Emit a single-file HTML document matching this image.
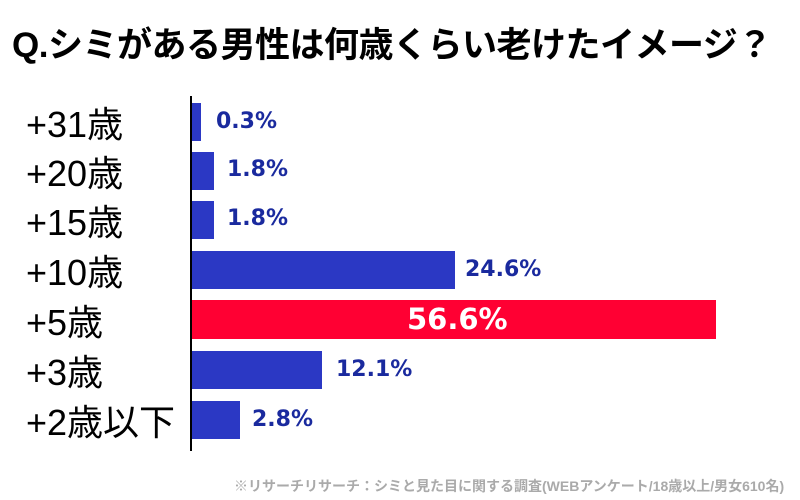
<!DOCTYPE html>
<html><head><meta charset="utf-8"><style>
body{margin:0;width:800px;height:500px;background:#fff;position:relative;overflow:hidden;font-family:"Liberation Sans","Noto Sans CJK JP",sans-serif}
.t{position:absolute;left:12px;top:17px;font-size:35px;font-weight:bold;color:#000;white-space:nowrap;letter-spacing:-0.5px}
.ax{position:absolute;left:190px;top:96px;width:2px;height:355px;background:#000}
.b{position:absolute;left:192px;height:38px;background:#2b38c4}
.l{position:absolute;font-size:22px;font-weight:bold;color:#1a2a9e;white-space:nowrap;font-family:"DejaVu Sans",sans-serif}
.c{position:absolute;left:26px;font-size:36px;color:#000;white-space:nowrap}
.f{position:absolute;left:234px;top:476px;font-size:14px;color:#aaa;font-weight:bold;white-space:nowrap}
</style></head><body>
<div class="t">Q.シミがある男性は何歳くらい老けたイメージ？</div>
<div class="ax"></div>
<div class="c" style="top:96px">+31歳</div>
<div class="c" style="top:145px">+20歳</div>
<div class="c" style="top:194px">+15歳</div>
<div class="c" style="top:244px">+10歳</div>
<div class="c" style="top:294px">+5歳</div>
<div class="c" style="top:344px">+3歳</div>
<div class="c" style="top:394px">+2歳以下</div>
<div class="b" style="top:103px;width:9px"></div>
<div class="b" style="top:152px;width:22px"></div>
<div class="b" style="top:201px;width:22px"></div>
<div class="b" style="top:251px;width:263px"></div>
<div class="b" style="top:300px;width:524px;height:39px;background:#ff0033"></div>
<div class="b" style="top:351px;width:130px"></div>
<div class="b" style="top:401px;width:48px"></div>
<div class="l" style="left:216px;top:109px">0.3%</div>
<div class="l" style="left:227px;top:157px">1.8%</div>
<div class="l" style="left:227px;top:206px">1.8%</div>
<div class="l" style="left:465px;top:257px">24.6%</div>
<div class="l" style="left:407px;top:302px;font-size:29px;color:#fff">56.6%</div>
<div class="l" style="left:336px;top:357px">12.1%</div>
<div class="l" style="left:252px;top:407px">2.8%</div>
<div class="f">※リサーチリサーチ：シミと見た目に関する調査(WEBアンケート/18歳以上/男女610名)</div>
</body></html>
